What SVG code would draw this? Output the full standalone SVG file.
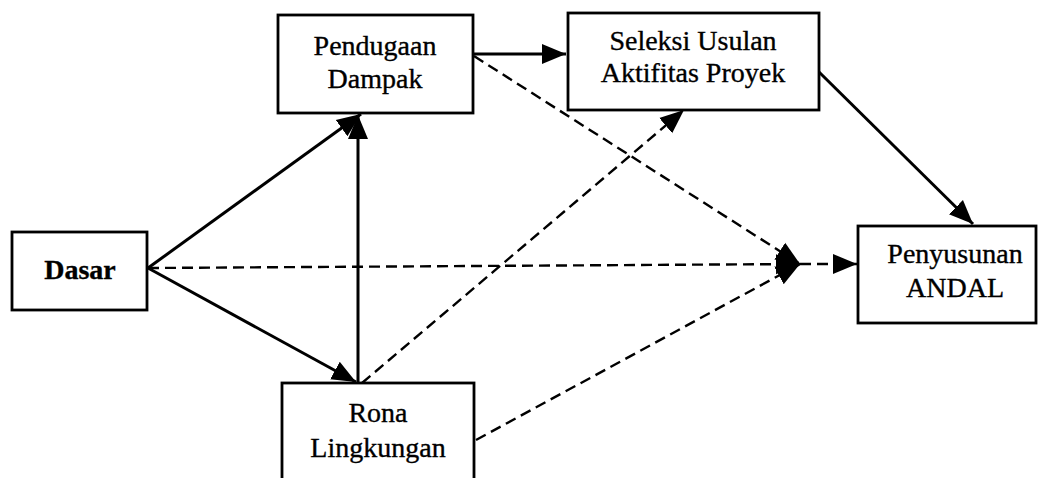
<svg xmlns="http://www.w3.org/2000/svg" width="1040" height="478" viewBox="0 0 1040 478">
  <style>
    .box { fill: #fff; stroke: #000; stroke-width: 2.8; }
    .lbl { font-family: "Liberation Serif", "Times New Roman", serif; font-size: 28px; fill: #000; stroke: #000; stroke-width: 0.35; text-anchor: middle; }
    .bold { font-weight: bold; }
    .solid { stroke: #000; stroke-width: 3; fill: none; }
    .dash { stroke: #000; stroke-width: 2.4; fill: none; stroke-dasharray: 11 6; }
  </style>
  <defs>
    <marker id="arrow" markerUnits="userSpaceOnUse" markerWidth="26" markerHeight="24" refX="24" refY="12" orient="auto">
      <path d="M0,2 L24,12 L0,22 Z" fill="#000"/>
    </marker>
  </defs>

  <rect width="1040" height="478" fill="#fff"/>

  <g id="connectors">
    <!-- solid flows -->
    <line class="solid" x1="473" y1="54" x2="566" y2="54" marker-end="url(#arrow)"/>
    <line class="solid" x1="148" y1="268" x2="361" y2="114" marker-end="url(#arrow)"/>
    <line class="solid" x1="148" y1="268" x2="356" y2="382" marker-end="url(#arrow)"/>
    <line class="solid" x1="358" y1="383" x2="358" y2="115" marker-end="url(#arrow)"/>
    <line class="solid" x1="819" y1="72" x2="973" y2="224" marker-end="url(#arrow)"/>
    <!-- dashed flows -->
    <line class="dash" x1="474" y1="56" x2="800" y2="264" marker-end="url(#arrow)"/>
    <line class="dash" x1="148" y1="268" x2="800" y2="264" marker-end="url(#arrow)"/>
    <line class="dash" x1="476" y1="440" x2="800" y2="264" marker-end="url(#arrow)"/>
    <line class="dash" x1="362" y1="383" x2="684" y2="110" marker-end="url(#arrow)"/>
    <line class="dash" x1="800" y1="264" x2="857" y2="264" marker-end="url(#arrow)"/>
  </g>

  <g id="dasar">
    <rect class="box" x="12" y="232" width="135" height="78"/>
    <text class="lbl bold" x="80" y="279">Dasar</text>
  </g>

  <g id="pendugaan-dampak">
    <rect class="box" x="278" y="15" width="195" height="98"/>
    <text class="lbl" x="375" y="55">Pendugaan</text>
    <text class="lbl" x="375" y="88">Dampak</text>
  </g>

  <g id="seleksi-usulan">
    <rect class="box" x="568" y="13" width="251" height="97"/>
    <text class="lbl" x="693" y="50">Seleksi Usulan</text>
    <text class="lbl" x="693" y="82">Aktifitas Proyek</text>
  </g>

  <g id="rona-lingkungan">
    <rect class="box" x="282" y="383" width="192" height="110"/>
    <text class="lbl" x="378" y="422">Rona</text>
    <text class="lbl" x="378" y="457">Lingkungan</text>
  </g>

  <g id="penyusunan-andal">
    <rect class="box" x="858" y="226" width="178" height="97"/>
    <text class="lbl" x="955" y="263">Penyusunan</text>
    <text class="lbl" x="955" y="297">ANDAL</text>
  </g>
</svg>
